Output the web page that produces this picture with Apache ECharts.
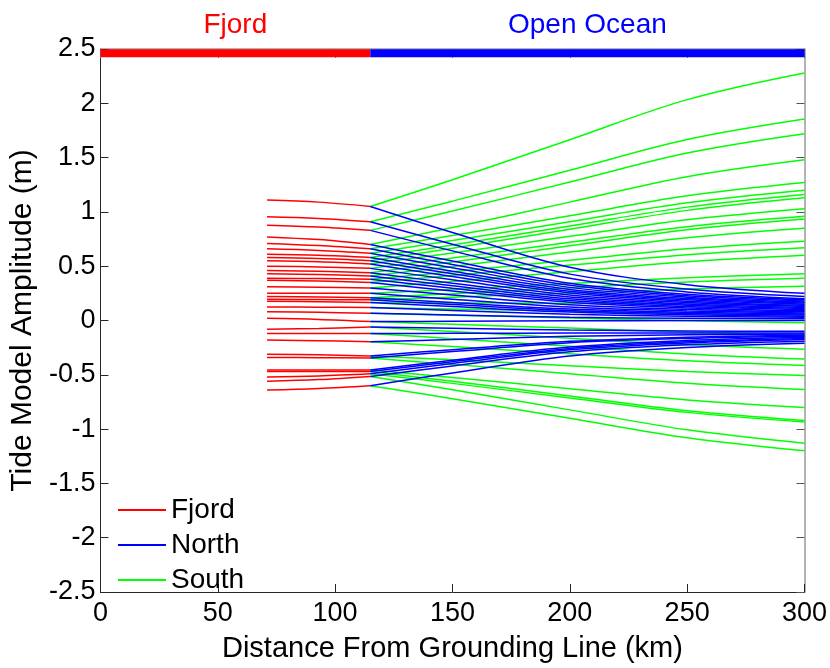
<!DOCTYPE html>
<html><head><meta charset="utf-8">
<script src="https://cdn.jsdelivr.net/npm/echarts@6/dist/echarts.min.js"></script>
<style>html,body{margin:0;padding:0;background:#fff}#c{width:830px;height:668px}</style>
</head><body><div id="c"></div>
<script>
// x positions (km) of the sampled points
const fjordX = [71, 93, 115];
const oceanX = [115, 150, 200, 250, 300];

// Fjord lines: amplitude (m) at fjordX
const fjordLines = [
  [1.11, 1.09, 1.05],
  [0.956, 0.94, 0.91],
  [0.878, 0.86, 0.83],
  [0.77, 0.745, 0.70],
  [0.71, 0.69, 0.66],
  [0.66, 0.645, 0.62],
  [0.61, 0.60, 0.58],
  [0.58, 0.57, 0.55],
  [0.55, 0.54, 0.52],
  [0.50, 0.493, 0.48],
  [0.46, 0.453, 0.44],
  [0.43, 0.423, 0.41],
  [0.39, 0.386, 0.38],
  [0.37, 0.363, 0.35],
  [0.31, 0.306, 0.30],
  [0.25, 0.25, 0.25],
  [0.22, 0.216, 0.21],
  [0.195, 0.193, 0.19],
  [0.177, 0.173, 0.165],
  [0.125, 0.123, 0.12],
  [0.08, 0.075, 0.066],
  [0.02, 0.01, -0.01],
  [-0.08, -0.073, -0.06],
  [-0.12, -0.12, -0.12],
  [-0.18, -0.186, -0.196],
  [-0.31, -0.316, -0.326],
  [-0.34, -0.342, -0.346],
  [-0.455, -0.455, -0.455],
  [-0.47, -0.47, -0.47],
  [-0.52, -0.51, -0.49],
  [-0.56, -0.544, -0.515],
  [-0.64, -0.626, -0.60]
];

// North lines: amplitude (m) at oceanX
const northLines = [
  [1.05, 0.81, 0.49, 0.33, 0.25],
  [0.91, 0.703, 0.427, 0.289, 0.22],
  [0.83, 0.641, 0.389, 0.263, 0.20],
  [0.70, 0.547, 0.343, 0.241, 0.19],
  [0.66, 0.516, 0.324, 0.228, 0.18],
  [0.62, 0.485, 0.305, 0.215, 0.17],
  [0.58, 0.454, 0.286, 0.202, 0.16],
  [0.55, 0.43, 0.27, 0.19, 0.15],
  [0.52, 0.406, 0.254, 0.178, 0.14],
  [0.48, 0.375, 0.235, 0.165, 0.13],
  [0.44, 0.344, 0.216, 0.152, 0.12],
  [0.41, 0.32, 0.20, 0.14, 0.11],
  [0.38, 0.296, 0.184, 0.128, 0.10],
  [0.35, 0.272, 0.168, 0.116, 0.09],
  [0.30, 0.234, 0.146, 0.102, 0.08],
  [0.25, 0.196, 0.124, 0.088, 0.07],
  [0.21, 0.165, 0.105, 0.075, 0.06],
  [0.19, 0.148, 0.092, 0.064, 0.05],
  [0.165, 0.128, 0.078, 0.053, 0.04],
  [0.12, 0.093, 0.057, 0.039, 0.03],
  [0.066, 0.051, 0.030, 0.02, 0.015],
  [-0.01, -0.007, -0.003, -0.001, 0.0],
  [-0.06, -0.072, -0.088, -0.096, -0.10],
  [-0.12, -0.118, -0.116, -0.115, -0.115],
  [-0.196, -0.175, -0.146, -0.132, -0.125],
  [-0.326, -0.269, -0.192, -0.154, -0.135],
  [-0.346, -0.286, -0.205, -0.165, -0.145],
  [-0.455, -0.365, -0.245, -0.185, -0.155],
  [-0.47, -0.379, -0.257, -0.196, -0.165],
  [-0.49, -0.396, -0.27, -0.207, -0.175],
  [-0.515, -0.418, -0.288, -0.223, -0.19],
  [-0.60, -0.483, -0.327, -0.249, -0.21]
];

// South lines: amplitude (m) at oceanX
const southLines = [
  [1.05, 1.296, 1.665, 2.034, 2.28],
  [0.91, 1.099, 1.383, 1.666, 1.855],
  [0.83, 1.008, 1.275, 1.542, 1.72],
  [0.70, 0.856, 1.09, 1.324, 1.48],
  [0.66, 0.782, 0.965, 1.148, 1.27],
  [0.62, 0.736, 0.91, 1.084, 1.20],
  [0.58, 0.696, 0.87, 1.044, 1.16],
  [0.55, 0.666, 0.84, 1.014, 1.13],
  [0.52, 0.622, 0.775, 0.928, 1.03],
  [0.48, 0.576, 0.72, 0.864, 0.96],
  [0.44, 0.539, 0.688, 0.836, 0.935],
  [0.41, 0.498, 0.63, 0.762, 0.85],
  [0.38, 0.45, 0.555, 0.66, 0.73],
  [0.35, 0.414, 0.51, 0.606, 0.67],
  [0.30, 0.36, 0.45, 0.54, 0.60],
  [0.25, 0.286, 0.34, 0.394, 0.43],
  [0.21, 0.246, 0.30, 0.354, 0.39],
  [0.19, 0.215, 0.253, 0.29, 0.315],
  [0.165, 0.162, 0.158, 0.153, 0.15],
  [0.12, 0.106, 0.085, 0.064, 0.05],
  [0.066, 0.049, 0.023, -0.003, -0.02],
  [-0.01, -0.034, -0.07, -0.106, -0.13],
  [-0.06, -0.101, -0.163, -0.224, -0.265],
  [-0.12, -0.167, -0.238, -0.308, -0.355],
  [-0.196, -0.24, -0.306, -0.371, -0.415],
  [-0.326, -0.362, -0.416, -0.47, -0.506],
  [-0.346, -0.404, -0.49, -0.577, -0.635],
  [-0.455, -0.524, -0.628, -0.731, -0.80],
  [-0.47, -0.56, -0.695, -0.83, -0.92],
  [-0.49, -0.579, -0.713, -0.846, -0.935],
  [-0.515, -0.638, -0.823, -1.007, -1.13],
  [-0.60, -0.72, -0.90, -1.08, -1.20]
];

// Region bar along the top
const regionNames = ['Fjord', 'Open Ocean'];
const regionStart = [0, 115];
const regionEnd = [115, 300];
const regionBarY = 2.46;
const regionLabelY = 2.5;

const seriesNames = ['Fjord', 'North', 'South'];
const seriesColors = ['#ff0000', '#0000ff', '#00ff00'];
const regionColors = ['#ff0000', '#0000ff'];

const FONT = "'Liberation Sans', Arial, Helvetica, sans-serif";

function lineSeries(name, color, xs, ys) {
  return {
    name: name, type: 'line', symbol: 'none', smooth: 0.35,
    data: xs.map((x, i) => [x, ys[i]]),
    lineStyle: { color: color, width: 1.5 },
    itemStyle: { color: color },
    emphasis: { disabled: true }, silent: true, z: 2
  };
}

const series = [];
fjordLines.forEach(l => series.push(lineSeries(seriesNames[0], seriesColors[0], fjordX, l)));
southLines.forEach(l => series.push(lineSeries(seriesNames[2], seriesColors[2], oceanX, l)));
northLines.forEach(l => series.push(lineSeries(seriesNames[1], seriesColors[1], oceanX, l)));

regionNames.forEach((n, i) => {
  series.push({
    name: '_bar' + i, type: 'line', symbol: 'none',
    data: [[regionStart[i], regionBarY], [regionEnd[i], regionBarY]],
    lineStyle: { color: regionColors[i], width: 8, cap: 'butt' },
    silent: true, z: 10, emphasis: { disabled: true }
  });
});
series.push({
  name: '_labels', type: 'scatter', symbolSize: 0, clip: false, silent: true, z: 10,
  itemStyle: { opacity: 1 },
  data: regionNames.map((n, i) => ({
    value: [(regionStart[i] + regionEnd[i]) / 2, regionLabelY],
    name: n,
    label: { color: regionColors[i] }
  })),
  label: { show: true, position: 'top', distance: 10, formatter: p => p.name,
           fontFamily: FONT, fontSize: 28, textBorderWidth: 0, opacity: 1 }
});

const axisLineDark = { show: true, onZero: false, lineStyle: { color: '#262626', width: 1 } };
const axisLineLight = { show: true, onZero: false, lineStyle: { color: '#9a9a9a', width: 1.5 } };

const option = {
  animation: false,
  backgroundColor: '#ffffff',
  grid: { left: 100, top: 49, width: 705, height: 554, containLabel: false },
  legend: {
    data: seriesNames, orient: 'vertical', left: 113, top: 491,
    icon: 'rect', itemWidth: 48, itemHeight: 2, itemGap: 7,
    textStyle: { fontFamily: FONT, fontSize: 28, color: '#000', lineHeight: 28 },
    selectedMode: false
  },
  xAxis: [{
    type: 'value', min: 0, max: 300, interval: 50, position: 'bottom',
    name: 'Distance From Grounding Line (km)', nameLocation: 'middle', nameGap: 42,
    nameTextStyle: { fontFamily: FONT, fontSize: 29, color: '#000' },
    axisLine: axisLineDark,
    axisTick: { show: true, inside: true, length: 8, lineStyle: { color: '#262626' } },
    axisLabel: { fontFamily: FONT, fontSize: 27, color: '#000', margin: 8 },
    splitLine: { show: false }
  }, {
    type: 'value', min: 0, max: 300, interval: 50, position: 'top',
    axisLine: axisLineLight,
    axisTick: { show: true, inside: true, length: 9, lineStyle: { color: '#777' } },
    axisLabel: { show: false }, splitLine: { show: false }
  }],
  yAxis: [{
    type: 'value', min: -2.5, max: 2.5, interval: 0.5, position: 'left',
    name: 'Tide Model Amplitude (m)', nameLocation: 'middle', nameGap: 57,
    nameTextStyle: { fontFamily: FONT, fontSize: 30, color: '#000' },
    axisLine: axisLineDark,
    axisTick: { show: true, inside: true, length: 8, lineStyle: { color: '#262626' } },
    axisLabel: { fontFamily: FONT, fontSize: 27, color: '#000', margin: 5 },
    splitLine: { show: false }
  }, {
    type: 'value', min: -2.5, max: 2.5, interval: 0.5, position: 'right',
    axisLine: axisLineLight,
    axisTick: { show: true, inside: true, length: 8, lineStyle: { color: '#555' } },
    axisLabel: { show: false }, splitLine: { show: false }
  }],
  series: series
};

const chart = echarts.init(document.getElementById('c'), null, { renderer: 'canvas' });
chart.setOption(option);
</script>
</body></html>
